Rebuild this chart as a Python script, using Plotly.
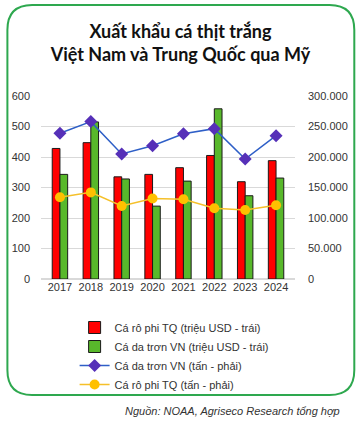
import plotly.graph_objects as go

years = ["2017", "2018", "2019", "2020", "2021", "2022", "2023", "2024"]
tilapia_usd = [428, 447, 335, 343, 365, 405, 319, 388]
pangasius_usd = [343, 515, 328, 239, 321, 558, 273, 331]
pangasius_ton = [238900, 258000, 205000, 218500, 238000, 246500, 196700, 235000]
tilapia_ton = [134000, 142000, 119700, 132000, 130600, 116000, 113000, 121000]
left_ticks = [0, 100, 200, 300, 400, 500, 600]
right_ticks = [0, 50000, 100000, 150000, 200000, 250000, 300000]

W, H = 361, 423
L, R, T, B = 38, 66, 96, 144

fig = go.Figure()
fig.add_trace(go.Bar(x=years, y=tilapia_usd, name="Cá rô phi TQ (triệu USD - trái)",
                     marker=dict(color="#FF0000", line=dict(color="#1a1a1a", width=1))))
fig.add_trace(go.Bar(x=years, y=pangasius_usd, name="Cá da trơn VN (triệu USD - trái)",
                     marker=dict(color="#58B82B", line=dict(color="#1a1a1a", width=1))))
fig.add_trace(go.Scatter(x=years, y=pangasius_ton, name="Cá da trơn VN (tấn - phải)", yaxis="y2",
                         mode="lines+markers", line=dict(color="#2E5FC7", width=1.5),
                         marker=dict(symbol="diamond", size=10, color="#5630B8")))
fig.add_trace(go.Scatter(x=years, y=tilapia_ton, name="Cá rô phi TQ (tấn - phải)", yaxis="y2",
                         mode="lines+markers", line=dict(color="#F5C02A", width=1.5),
                         marker=dict(symbol="circle", size=10, color="#FFC000")))

def px_x(p):
    return (p - L) / (W - L - R)

def px_y(p):
    return (H - B - p) / (H - T - B)

x0, x1, y0, y1 = px_x(4), px_x(355), px_y(395), px_y(5)
rx = 25 / (W - L - R)
ry = 25 / (H - T - B)
path = (f"M {x0+rx} {y1} L {x1-rx} {y1} Q {x1} {y1} {x1} {y1-ry} "
        f"L {x1} {y0+ry} Q {x1} {y0} {x1-rx} {y0} L {x0+rx} {y0} "
        f"Q {x0} {y0} {x0} {y0+ry} L {x0} {y1-ry} Q {x0} {y1} {x0+rx} {y1} Z")

fig.update_layout(
    width=W, height=H,
    margin=dict(l=L, r=R, t=T, b=B),
    paper_bgcolor="white", plot_bgcolor="white",
    separators=",.",
    barmode="group", bargap=0.5, bargroupgap=0,
    font=dict(family="Arial, Liberation Sans", size=11, color="#333333"),
    title=dict(text="<b>Xuất khẩu cá thịt trắng<br>Việt Nam và Trung Quốc qua Mỹ</b>",
               x=0.5, xref="container", xanchor="center", y=1 - 38 / H, yanchor="middle",
               font=dict(family="Lato", size=18, color="#111111", weight=900)),
    xaxis=dict(showgrid=False, showline=False, ticks="", tickfont=dict(size=11, color="#333333")),
    yaxis=dict(range=[0, 600], tickvals=left_ticks, showgrid=True, gridcolor="#D9D9D9",
               zeroline=True, zerolinecolor="#D9D9D9", ticklabelstandoff=10,
               tickfont=dict(size=11, color="#333333")),
    yaxis2=dict(range=[0, 300000], tickvals=right_ticks, tickformat=",d", overlaying="y",
                side="right", showgrid=False, zeroline=False, ticklabelstandoff=12,
                tickfont=dict(size=11, color="#333333")),
    legend=dict(x=px_x(72), xanchor="left", y=px_y(313), yanchor="top",
                font=dict(size=11, color="#333333"), bgcolor="rgba(0,0,0,0)",
                tracegroupgap=0, itemwidth=30),
    showlegend=True,
    shapes=[dict(type="path", xref="paper", yref="paper", path=path,
                 line=dict(color="#2EA84F", width=2), layer="below")],
    annotations=[dict(text="<i>Nguồn: NOAA, Agriseco Research tổng hợp</i>",
                      xref="paper", yref="paper", x=px_x(343), y=px_y(411),
                      xanchor="right", yanchor="middle", showarrow=False,
                      font=dict(size=11, color="#333333"))],
)

fig.write_html("out.html", config={"displayModeBar": False},
               post_script="document.body.style.margin='0';document.body.style.padding='0';")
